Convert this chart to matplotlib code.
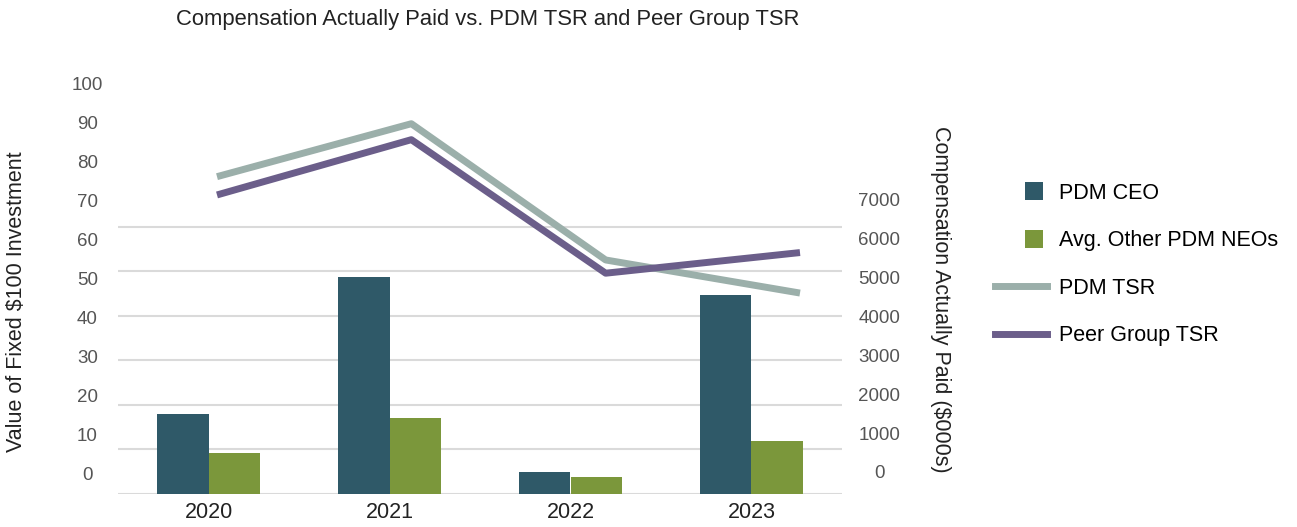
import matplotlib
matplotlib.use("Agg")
import matplotlib.pyplot as plt
from matplotlib.lines import Line2D
from matplotlib.patches import Rectangle, Patch
import numpy as np

years = ["2020", "2021", "2022", "2023"]
# compensation actually paid, $000s
ceo_cap = [1800, 4880, 490, 4470]
neo_cap = [910, 1700, 390, 1190]
# value of fixed $100 investment
pdm_tsr = [76.2, 89.8, 54.8, 46.3]
peer_tsr = [71.5, 85.7, 51.4, 56.7]

W, H = 1297, 527
fig = plt.figure(figsize=(W / 100, H / 100), dpi=100)
plt.rcParams['font.family'] = ['Liberation Sans', 'DejaVu Sans']


def box(x0, y0, x1, y1):
    # pixel box (top-left origin) -> figure fraction
    return [x0 / W, 1 - y1 / H, (x1 - x0) / W, (y1 - y0) / H]


c_ceo = '#2F5968'
c_neo = '#7B973B'
c_pdm = '#9BAFAA'
c_peer = '#6B5E8A'
grid_c = '#DADADA'
tick_c = '#555555'

# bars + gridlines
px_per_k = 44.55
ax_bar = fig.add_axes(box(118, 60, 842, 494))
ax_bar.set_ylim(0, (494 - 60) / px_per_k * 1000)
ax_bar.set_xlim(-0.5, 3.5)
x = np.arange(len(years))
bw = 0.287
ax_bar.bar(x - bw / 2, ceo_cap, bw, color=c_ceo, zorder=3)
ax_bar.bar(x + bw / 2, neo_cap, bw, color=c_neo, zorder=3)
ax_bar.set_yticks(range(0, 7000, 1000))
ax_bar.yaxis.grid(True, color=grid_c, linewidth=1.5, zorder=0)
ax_bar.tick_params(axis='y', length=0, labelleft=False)
ax_bar.set_xticks(x)
ax_bar.set_xticklabels(years, fontsize=15.5, color='#222222')
ax_bar.tick_params(axis='x', length=0, pad=6)
for s in ax_bar.spines.values():
    s.set_visible(False)

# TSR lines with left scale
ax_line = fig.add_axes(box(118, 84, 842, 473.3))
ax_line.patch.set_visible(False)
unit = (800 - 217) / 3
ax_line.set_xlim(-(217 - 118) / unit, 3 + (842 - 800) / unit)
ax_line.set_ylim(0, 100)
ax_line.plot(x, pdm_tsr, color=c_pdm, lw=5, solid_capstyle='butt', clip_on=False)
ax_line.plot(x, peer_tsr, color=c_peer, lw=5, solid_capstyle='butt', clip_on=False)
ax_line.set_yticks(range(0, 101, 10))
ax_line.tick_params(axis='y', length=0, pad=22, labelsize=13.5, labelcolor=tick_c)
for t in ax_line.get_yticklabels():
    t.set_ha('center')
ax_line.set_xticks([])
for s in ax_line.spines.values():
    s.set_visible(False)

# right scale labels
ax_r = fig.add_axes(box(118, 200, 842, 472))
ax_r.patch.set_visible(False)
ax_r.set_ylim(0, 7000)
ax_r.yaxis.tick_right()
ax_r.set_yticks(range(0, 7001, 1000))
ax_r.tick_params(axis='y', length=0, pad=27, labelsize=13.5, labelcolor=tick_c)
for t in ax_r.get_yticklabels():
    t.set_ha('center')
ax_r.set_xticks([])
for s in ax_r.spines.values():
    s.set_visible(False)

fig.text(17 / W, 1 - 302 / H, "Value of Fixed $100 Investment", rotation=90,
         ha='center', va='center', fontsize=15.5, color='#222222')
fig.text(940 / W, 1 - 299 / H, "Compensation Actually Paid ($000s)", rotation=-90,
         ha='center', va='center', fontsize=15.5, color='#222222')
fig.text(488 / W, 1 - 19 / H, "Compensation Actually Paid vs. PDM TSR and Peer Group TSR",
         ha='center', va='center', fontsize=15.8, color='#222222')


class SquareHandler:
    # small square pushed to the right end of the handle area
    def legend_artist(self, legend, orig_handle, fontsize, handlebox):
        w, h = handlebox.width, handlebox.height
        s = 13
        r = Rectangle((w - s - 3, h / 2 - s / 2), s, s,
                      facecolor=orig_handle.get_facecolor(), edgecolor='none',
                      transform=handlebox.get_transform())
        handlebox.add_artist(r)
        return r


handles = [
    Patch(color=c_ceo),
    Patch(color=c_neo),
    Line2D([], [], color=c_pdm, lw=5),
    Line2D([], [], color=c_peer, lw=5),
]
labels = ["PDM CEO", "Avg. Other PDM NEOs", "PDM TSR", "Peer Group TSR"]
fig.legend(handles, labels, loc='upper left', bbox_to_anchor=(995 / W, 1 - 183 / H),
           frameon=False, fontsize=15.5, handlelength=2.42, handletextpad=0.56,
           labelspacing=1.23, borderaxespad=0, borderpad=0,
           handler_map={Patch: SquareHandler()})

fig.savefig("out.png", dpi=100)
